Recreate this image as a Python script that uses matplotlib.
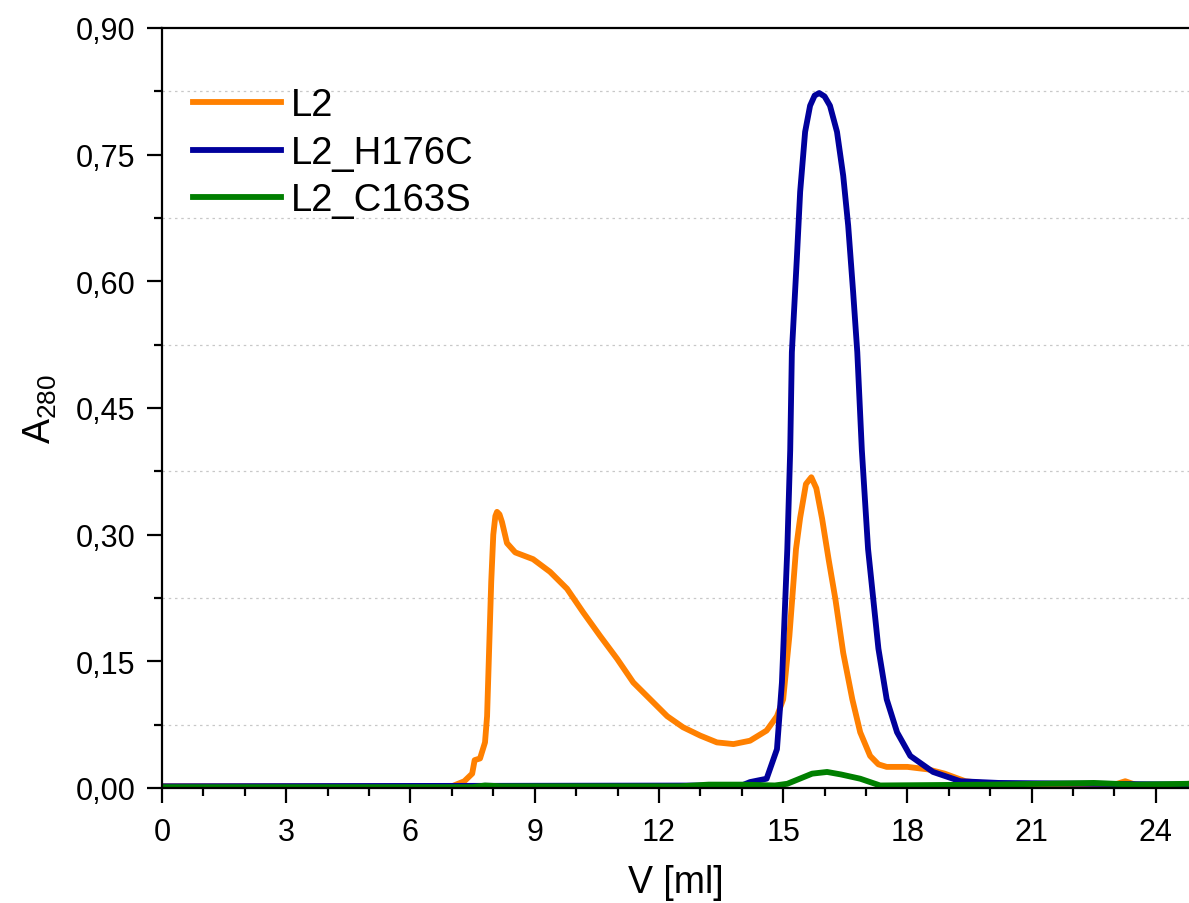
import matplotlib
matplotlib.use('Agg')
import numpy as np
from matplotlib import pyplot as plt
from matplotlib.ticker import MultipleLocator, FuncFormatter

plt.rcParams['font.family'] = ['Liberation Sans', 'DejaVu Sans']

# L2
l2_v = [0, 7.0, 7.3, 7.49, 7.55, 7.68, 7.8, 7.85, 7.9, 7.95, 8.0, 8.05, 8.09, 8.15, 8.21,
        8.33, 8.53, 8.96, 9.37, 9.78, 10.17, 10.58, 10.99, 11.38, 11.79, 12.2, 12.58,
        13.0, 13.4, 13.8, 14.2, 14.6, 14.85, 15.0, 15.15, 15.31, 15.41, 15.55, 15.68,
        15.8, 15.94, 16.1, 16.26, 16.45, 16.67, 16.86, 17.1, 17.3, 17.5, 18.0, 18.5,
        18.9, 19.4, 20.0, 23.0, 23.26, 23.5, 24.0, 24.8]
l2_a = [0.002, 0.002, 0.008, 0.017, 0.033, 0.035, 0.054, 0.085, 0.165, 0.244, 0.300,
        0.322, 0.327, 0.324, 0.315, 0.290, 0.279, 0.271, 0.256, 0.236, 0.208, 0.180,
        0.153, 0.125, 0.105, 0.085, 0.072, 0.062, 0.054, 0.052, 0.056, 0.068, 0.085,
        0.105, 0.180, 0.283, 0.320, 0.360, 0.368, 0.355, 0.319, 0.270, 0.224, 0.160,
        0.105, 0.066, 0.038, 0.028, 0.025, 0.025, 0.022, 0.017, 0.008, 0.005, 0.004,
        0.008, 0.004, 0.002, 0.005]

# L2_H176C
h176c_v = [0, 14.0, 14.2, 14.6, 14.85, 14.97, 15.1, 15.17, 15.21, 15.33, 15.41, 15.53,
           15.65, 15.76, 15.87, 16.0, 16.13, 16.3, 16.45, 16.57, 16.69, 16.79, 16.9,
           17.05, 17.3, 17.5, 17.75, 18.07, 18.62, 19.28, 20.2, 22.5, 24.8]
h176c_a = [0.002, 0.003, 0.007, 0.011, 0.046, 0.125, 0.283, 0.400, 0.516, 0.627, 0.706,
           0.777, 0.808, 0.820, 0.823, 0.819, 0.808, 0.777, 0.725, 0.666, 0.587, 0.516,
           0.400, 0.283, 0.165, 0.105, 0.066, 0.038, 0.019, 0.008, 0.006, 0.005, 0.004]

# L2_C163S
c163s_v = [0, 7.5, 7.8, 8.2, 12.5, 13.2, 14.0, 14.8, 15.1, 15.4, 15.7, 16.06, 16.4,
           16.86, 17.34, 20.0, 22.5, 23.5, 24.8]
c163s_a = [0.001, 0.001, 0.003, 0.002, 0.002, 0.004, 0.004, 0.003, 0.005, 0.011, 0.017,
           0.019, 0.016, 0.011, 0.003, 0.004, 0.006, 0.004, 0.005]

fig = plt.figure(figsize=(11.89, 9.04), dpi=100)
ax = fig.add_axes([162 / 1189, 115 / 904, 1 - 162 / 1189, 760 / 904])

lw = 4.2
ax.plot(l2_v, l2_a, color='#FF8000', lw=lw, label='L2', solid_joinstyle='round')
ax.plot(h176c_v, h176c_a, color='#00009C', lw=lw, label='L2_H176C', solid_joinstyle='round')
ax.plot(c163s_v, c163s_a, color='#007F00', lw=lw, label='L2_C163S', solid_joinstyle='round')

ax.set_xlim(0, 24.8)
ax.set_ylim(0, 0.90)
ax.xaxis.set_major_locator(MultipleLocator(3))
ax.xaxis.set_minor_locator(MultipleLocator(1))
ax.yaxis.set_major_locator(MultipleLocator(0.15))
ax.yaxis.set_minor_locator(MultipleLocator(0.075))
ax.yaxis.set_major_formatter(FuncFormatter(lambda v, p: f'{v:.2f}'.replace('.', ',')))

ax.grid(which='minor', axis='y', color='#c8c8c8', linestyle=(0, (2, 3)), linewidth=0.9)
ax.tick_params(which='major', direction='out', length=11, width=1.6, labelsize=22)
ax.tick_params(axis='y', which='major', pad=8)
ax.tick_params(axis='x', which='major', pad=10)
ax.tick_params(which='minor', direction='out', length=5.5, width=1.6)
for s in ['left', 'bottom', 'top']:
    ax.spines[s].set_linewidth(1.6)
ax.spines['right'].set_visible(False)

ax.set_xlabel('V [ml]', fontsize=27, labelpad=12)
ax.set_ylabel(r'$\mathregular{A_{280}}$', fontsize=27, labelpad=12)

leg = ax.legend(loc='upper left', bbox_to_anchor=(-0.003, 0.967), frameon=False,
                fontsize=27.5, handlelength=2.3, handletextpad=0.25, labelspacing=0.3,
                borderaxespad=0.5)

fig.savefig('out.png', dpi=100)
